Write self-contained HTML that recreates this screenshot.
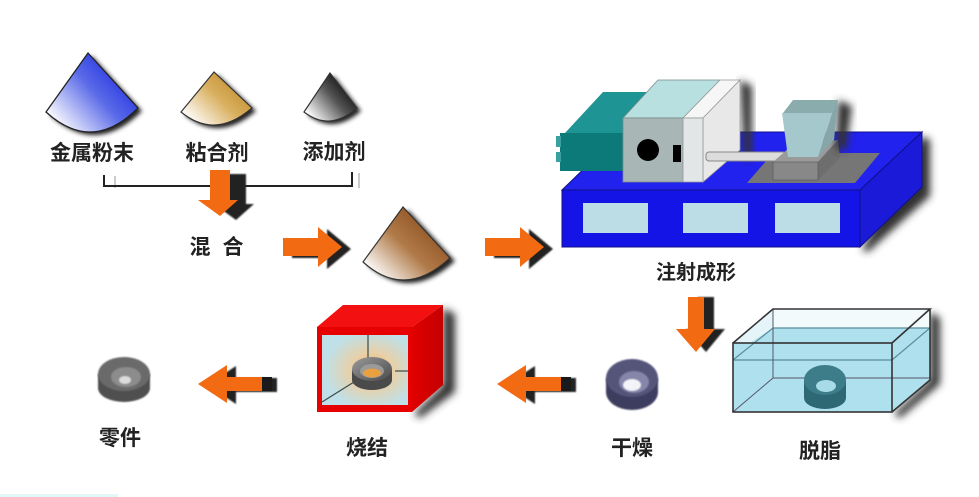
<!DOCTYPE html>
<html>
<head>
<meta charset="utf-8">
<style>
html,body{margin:0;padding:0;background:#fff;}
svg{display:block;}
text{font-family:"Liberation Sans","Noto Sans CJK SC",sans-serif;font-weight:bold;fill:#222;}
</style>
</head>
<body>
<svg width="979" height="497" viewBox="0 0 979 497" xmlns="http://www.w3.org/2000/svg">
<defs>
  <filter id="blur2" x="-20%" y="-20%" width="140%" height="140%"><feGaussianBlur stdDeviation="2"/></filter>
  <filter id="blur4" x="-30%" y="-30%" width="160%" height="160%"><feGaussianBlur stdDeviation="4"/></filter>
  <filter id="blur1"><feGaussianBlur stdDeviation="0.8"/></filter>
  <linearGradient id="gBlue" x1="0.95" y1="0.25" x2="0.1" y2="0.9">
    <stop offset="0" stop-color="#1a2ae0"/><stop offset="0.45" stop-color="#5a6ae8"/><stop offset="1" stop-color="#ffffff"/>
  </linearGradient>
  <linearGradient id="gGold" x1="0.95" y1="0.25" x2="0.1" y2="0.9">
    <stop offset="0" stop-color="#c08a28"/><stop offset="0.45" stop-color="#d9b060"/><stop offset="1" stop-color="#ffffff"/>
  </linearGradient>
  <linearGradient id="gBlack" x1="0.95" y1="0.25" x2="0.1" y2="0.9">
    <stop offset="0" stop-color="#000"/><stop offset="0.45" stop-color="#555"/><stop offset="1" stop-color="#fff"/>
  </linearGradient>
  <linearGradient id="gBrown" x1="0.9" y1="0.2" x2="0.1" y2="0.9">
    <stop offset="0" stop-color="#8a4a1a"/><stop offset="0.5" stop-color="#b07a48"/><stop offset="1" stop-color="#ffffff"/>
  </linearGradient>
  <radialGradient id="glow" cx="0.58" cy="0.5" r="0.55">
    <stop offset="0" stop-color="#f0b060"/><stop offset="0.45" stop-color="#e8d0a8"/><stop offset="1" stop-color="#bfe0e8"/>
  </radialGradient>
  <linearGradient id="gRing" x1="0" y1="0" x2="1" y2="1">
    <stop offset="0" stop-color="#9a9a9a"/><stop offset="1" stop-color="#4a4a4a"/>
  </linearGradient>
  <linearGradient id="gRedRight" x1="0" y1="0" x2="1" y2="0">
    <stop offset="0" stop-color="#e00000"/><stop offset="1" stop-color="#c40000"/>
  </linearGradient>
  <path id="arrR" d="M0,11 L35,11 L35,0 L59,20 L35,40 L35,29 L0,29 Z"/>
  <path id="arrL" d="M0,19 L29,0 L29,12 L70,12 L70,26 L29,26 L29,38 Z"/>
  <path id="arrD" d="M12,0 L32,0 L32,30 L40,30 L22,46 L0,30 L12,30 Z"/>
  <path id="arrD2" d="M13,0 L29,0 L29,32 L40,32 L21,55 L1,32 L13,32 Z"/>
</defs>

<!-- bottom-left faint strip -->
<rect x="0" y="494" width="118" height="3" fill="#e2f8f8"/>

<!-- ===== Top cones ===== -->
<path d="M88,53 L46,112 Q92,154 138,108 Z" fill="#222" transform="translate(4,3)" filter="url(#blur2)"/>
<path d="M88,53 L46,112 Q92,154 138,108 Z" fill="url(#gBlue)" stroke="#222" stroke-width="1.3"/>
<path d="M214,72 L181,112 Q215,140 252,108 Z" fill="#222" transform="translate(4,3)" filter="url(#blur2)"/>
<path d="M214,72 L181,112 Q215,140 252,108 Z" fill="url(#gGold)" stroke="#333" stroke-width="1.2"/>
<path d="M330,73 L304,112 Q330,132 357,108 Z" fill="#222" transform="translate(4,3)" filter="url(#blur2)"/>
<path d="M330,73 L304,112 Q330,132 357,108 Z" fill="url(#gBlack)" stroke="#333" stroke-width="1.2"/>

<text x="92" y="160" font-size="21" text-anchor="middle">金属粉末</text>
<text x="217" y="160" font-size="21" text-anchor="middle">粘合剂</text>
<text x="334" y="159" font-size="21" text-anchor="middle">添加剂</text>

<!-- bracket -->
<g stroke="#bbb" stroke-width="1.5" fill="none">
  <path d="M115,176 L115,188"/><path d="M359,173 L359,188"/>
</g>
<g stroke="#222" stroke-width="2" fill="none">
  <path d="M104,175 L104,186 L352,186 L352,172"/>
</g>

<!-- down arrow (mix) -->
<use href="#arrD" x="206" y="172" fill="#222" transform="translate(8,2)" filter="url(#blur1)"/>
<use href="#arrD" x="198" y="170" fill="#f26a12"/>

<text x="200" y="254" font-size="21" text-anchor="middle">混</text>
<text x="233" y="254" font-size="21" text-anchor="middle">合</text>

<!-- right arrows -->
<use href="#arrR" x="292" y="229" fill="#222" filter="url(#blur1)"/>
<use href="#arrR" x="283" y="227" fill="#f26a12"/>
<use href="#arrR" x="494" y="229" fill="#222" filter="url(#blur1)"/>
<use href="#arrR" x="485" y="227" fill="#f26a12"/>

<!-- mix cone -->
<path d="M403,207 L363,262 Q405,300 450,258 Z" fill="#222" transform="translate(5,3)" filter="url(#blur2)"/>
<path d="M403,207 L363,262 Q405,300 450,258 Z" fill="url(#gBrown)" stroke="#333" stroke-width="1.2"/>

<!-- ===== Injection machine ===== -->
<path d="M922,136 L930,140 L930,196 L868,252 L862,250 Z" fill="#333" filter="url(#blur4)"/>
<polygon points="562,190 622,132 922,132 860,190" fill="#2222ee" stroke="#10108a" stroke-width="1"/>
<polygon points="860,190 922,132 922,187 860,247" fill="#1a1ad8" stroke="#10108a" stroke-width="1"/>
<rect x="562" y="190" width="298" height="57" fill="#1414e6" stroke="#10108a" stroke-width="1"/>
<rect x="583" y="203" width="65" height="30" fill="#bcdde6"/>
<rect x="683" y="203" width="65" height="30" fill="#bcdde6"/>
<rect x="775" y="203" width="65" height="30" fill="#bcdde6"/>

<!-- teal box -->
<polygon points="565,133 603,92 650,92 623,133" fill="#1e9494"/>
<rect x="560" y="133" width="64" height="38" fill="#0d7a7a"/>
<rect x="556" y="136" width="5" height="11" fill="#3aa0a0"/>
<rect x="556" y="152" width="5" height="10" fill="#3aa0a0"/>

<path d="M740,80 L752,86 L752,158 L744,160 Z" fill="#333" filter="url(#blur4)"/>
<polygon points="623,118 658,80 720,80 683,118" fill="#b8e0e0" stroke="#7a8a8a" stroke-width="0.8"/>
<rect x="623" y="118" width="60" height="64" fill="#a8b6b6" stroke="#7a8a8a" stroke-width="0.8"/>
<circle cx="648" cy="150" r="11" fill="#000"/>
<rect x="673" y="145" width="8" height="17" fill="#000"/>
<polygon points="683,118 720,80 740,80 703,118" fill="#f6f6f6" stroke="#999" stroke-width="0.8"/>
<polygon points="703,118 740,80 740,150 703,182" fill="#e8e8e8" stroke="#999" stroke-width="0.8"/>
<rect x="683" y="118" width="20" height="64" fill="#e2e6e6" stroke="#999" stroke-width="0.8"/>

<polygon points="747,183 773,153 880,153 855,183" fill="#767676"/>
<rect x="706" y="152" width="80" height="9" rx="3" fill="#dcdcdc" stroke="#888" stroke-width="1"/>
<polygon points="773,162 790,147 838,140 818,162" fill="#9a9a9a"/>
<polygon points="818,162 838,140 840,158 818,180" fill="#6e6e6e"/>
<rect x="773" y="162" width="45" height="18" fill="#888" stroke="#555" stroke-width="0.6"/>
<path d="M838,100 L852,106 L846,150 L836,150 Z" fill="#333" filter="url(#blur4)"/>
<polygon points="783,113 793,100 838,100 832,113" fill="#8aacac"/>
<polygon points="832,113 838,100 834,140 818,157" fill="#86a6aa"/>
<polygon points="782,113 832,113 818,157 788,157" fill="#a4c8cc"/>

<text x="696" y="279" font-size="20" text-anchor="middle">注射成形</text>

<!-- down arrow (to degreasing) -->
<use href="#arrD2" x="685" y="297" fill="#222" filter="url(#blur1)"/>
<use href="#arrD2" x="675" y="297" fill="#f26a12"/>

<!-- ===== Degreasing tank ===== -->
<path d="M930,312 L940,318 L940,384 L900,418 L894,414 L930,380 Z" fill="#333" filter="url(#blur4)"/>
<polygon points="733,343 773,309 930,309 930,380 892,412 733,412" fill="#aee0ee"/>
<polygon points="773,309 930,309 930,328 773,328" fill="#f2fafc"/>
<polygon points="733,343 773,309 773,328 750,343" fill="#e4f4f8"/>
<g stroke="#5a8c9a" stroke-width="1.2" fill="none">
  <path d="M733,360 L892,360 L930,328 L773,328 L733,360"/>
</g>
<g stroke="#556" stroke-width="1" fill="none">
  <path d="M773,309 L773,378 L733,412"/><path d="M773,378 L930,378"/>
</g>
<path d="M804,380 L804,398 A21,11 0 0 0 846,398 L846,380 Z" fill="#2e6874"/>
<ellipse cx="825" cy="380" rx="21" ry="15" fill="#3d7d8a"/>
<ellipse cx="826" cy="386" rx="10" ry="6" fill="#a8dbe8"/>
<g stroke="#333" stroke-width="1.6" fill="none">
  <rect x="733" y="343" width="159" height="69"/>
  <path d="M733,343 L773,309 L930,309 L892,343"/>
  <path d="M930,309 L930,380 L892,412"/>
</g>

<text x="820" y="458" font-size="21" text-anchor="middle">脱脂</text>

<!-- dry ring -->
<path d="M606,378 L606,392 A26,18 0 0 0 658,392 L658,378 Z" fill="#3e3e60" filter="url(#blur1)"/>
<ellipse cx="632" cy="378" rx="26" ry="19" fill="#55557a" filter="url(#blur1)"/>
<ellipse cx="634" cy="382" rx="15" ry="11" fill="#8686aa" filter="url(#blur1)"/>
<ellipse cx="632" cy="385" rx="9" ry="6" fill="#f4f4f8" filter="url(#blur1)"/>
<text x="632" y="455" font-size="21" text-anchor="middle">干燥</text>

<!-- left arrows -->
<use href="#arrL" x="207" y="366" fill="#222" filter="url(#blur1)"/>
<use href="#arrL" x="198" y="365" fill="#f26a12"/>
<rect x="262" y="377" width="10" height="14" fill="#1a1a1a"/>
<use href="#arrL" x="506" y="366" fill="#222" filter="url(#blur1)"/>
<use href="#arrL" x="497" y="365" fill="#f26a12"/>
<rect x="561" y="377" width="10" height="14" fill="#1a1a1a"/>

<!-- ===== Furnace ===== -->
<path d="M443,308 L455,314 L455,392 L420,418 L414,414 L443,385 Z" fill="#333" filter="url(#blur4)"/>
<polygon points="317,327 343,305 443,305 412,327" fill="#f21010"/>
<polygon points="412,327 443,305 443,385 412,412" fill="url(#gRedRight)"/>
<rect x="317" y="327" width="95" height="85" fill="#e60000"/>
<rect x="322" y="335" width="86" height="70" fill="url(#glow)"/>
<g stroke="#3a4a4a" stroke-width="1.2">
  <path d="M368,335 L368,358"/><path d="M395,371 L408,371"/><path d="M354,382 L322,402"/>
</g>
<path d="M352,370 L352,380 A20,10 0 0 0 392,380 L392,370 Z" fill="#4a4a4a"/>
<ellipse cx="372" cy="369" rx="20" ry="12" fill="url(#gRing)"/>
<ellipse cx="372" cy="371" rx="12" ry="7" fill="#9a9a9a"/>
<ellipse cx="372" cy="373" rx="9" ry="4.5" fill="#e8a040"/>

<text x="367" y="455" font-size="21" text-anchor="middle">烧结</text>

<!-- part ring -->
<path d="M98,374 L98,388 A26,14 0 0 0 150,388 L150,374 Z" fill="#505050" filter="url(#blur1)"/>
<ellipse cx="124" cy="374" rx="26" ry="17" fill="#6a6a6a" filter="url(#blur1)"/>
<ellipse cx="126" cy="377" rx="15" ry="10" fill="#8c8c8c" filter="url(#blur1)"/>
<ellipse cx="125" cy="380" rx="6" ry="4" fill="#dcdcdc" filter="url(#blur1)"/>
<text x="120" y="445" font-size="21" text-anchor="middle">零件</text>
</svg>
</body>
</html>
